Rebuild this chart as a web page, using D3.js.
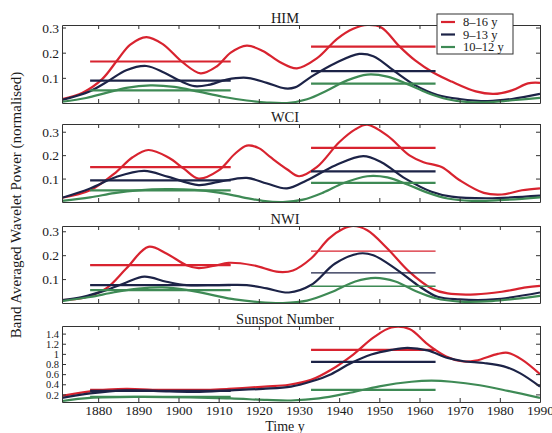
<!DOCTYPE html>
<html>
<head>
<meta charset="utf-8">
<script src="https://cdn.jsdelivr.net/npm/d3@7"></script>
<style>
body { margin: 0; background: #fff; }
svg text { font-family: "Liberation Serif", "Times New Roman", Times, serif; fill: #1a1a1a; }
</style>
</head>
<body>
<div id="vis"></div>
<script>
const FRAME_WIDTH = 552;
const FRAME_HEIGHT = 433;
const MARGINS = {left: 62, right: 12};

// panel titles and y ranges
const TITLES = ["HIM", "WCI", "NWI", "Sunspot Number"];
const Y_DOMAINS = [[0, 0.31], [0, 0.333], [0, 0.322], [0.05, 1.55]];
const Y_TICKS = [[0.1, 0.2, 0.3], [0.1, 0.2, 0.3], [0.1, 0.2, 0.3], [0.2, 0.4, 0.6, 0.8, 1, 1.2, 1.4]];
const X_TICKS = [1880, 1890, 1900, 1910, 1920, 1930, 1940, 1950, 1960, 1970, 1980, 1990];
const BANDS = ["8\u201316 y", "9\u201313 y", "10\u201312 y"];

// averaging windows for the horizontal lines
const WINDOWS = [[1878, 1913], [1933, 1964]];

// window means [first, second] for each band
const HIM_MEANS = [[0.165, 0.224], [0.089, 0.127], [0.05, 0.077]];
const WCI_MEANS = [[0.149, 0.231], [0.092, 0.131], [0.05, 0.082]];
const NWI_MEANS = [[0.158, 0.217], [0.075, 0.126], [0.054, 0.07]];
const SUN_MEANS = [[0.29, 1.08], [0.27, 0.84], [0.15, 0.29]];

// band averaged power [year, value]
const HIM_16 = [[1871,0.015],[1876,0.04],[1881,0.095],[1885,0.175],[1888,0.232],[1892,0.262],[1896,0.235],[1901,0.162],[1905.5,0.118],[1909.5,0.145],[1913,0.2],[1917,0.228],[1921,0.207],[1925,0.165],[1929.5,0.138],[1934.5,0.178],[1939.5,0.255],[1943.5,0.295],[1947,0.31],[1950.5,0.3],[1955,0.225],[1959,0.168],[1963.5,0.12],[1968,0.085],[1974,0.046],[1978.5,0.036],[1983,0.05],[1987,0.078],[1990,0.08]];
const HIM_13 = [[1871,0.012],[1878,0.047],[1882.5,0.087],[1887,0.13],[1892,0.147],[1896.5,0.12],[1900.5,0.087],[1904,0.067],[1907.5,0.072],[1912,0.093],[1917,0.1],[1922,0.08],[1926.5,0.058],[1929,0.062],[1933,0.104],[1939,0.158],[1945,0.195],[1948.5,0.186],[1954,0.124],[1959,0.07],[1964.5,0.032],[1970,0.016],[1977,0.008],[1983,0.016],[1990,0.036]];
const HIM_12 = [[1871,0.005],[1877,0.02],[1882,0.04],[1887,0.06],[1893,0.07],[1899,0.064],[1905,0.045],[1911,0.025],[1917,0.01],[1922,0.002],[1927,0],[1932,0.015],[1937,0.05],[1942,0.09],[1947,0.113],[1952,0.105],[1957,0.075],[1962,0.04],[1967,0.015],[1972,0.004],[1978,0.004],[1984,0.012],[1990,0.02]];

const WCI_16 = [[1871,0.018],[1878,0.05],[1884.5,0.128],[1888.5,0.19],[1892.5,0.222],[1897.5,0.19],[1901.5,0.14],[1905,0.1],[1910,0.135],[1914,0.205],[1917,0.241],[1920,0.23],[1923,0.19],[1927,0.14],[1930,0.11],[1934.5,0.15],[1940,0.255],[1944,0.31],[1947,0.33],[1952,0.283],[1957.5,0.199],[1961,0.17],[1965.5,0.149],[1970,0.093],[1976,0.039],[1980.5,0.032],[1985.5,0.05],[1990,0.058]];
const WCI_13 = [[1871,0.018],[1878,0.058],[1884.5,0.107],[1891.5,0.133],[1897.5,0.107],[1905,0.072],[1910,0.086],[1917,0.103],[1922,0.079],[1927,0.058],[1932,0.093],[1939,0.156],[1946,0.196],[1950.5,0.17],[1956.5,0.1],[1963,0.044],[1968,0.023],[1977,0.016],[1990,0.027]];
const WCI_12 = [[1871,0.005],[1878,0.02],[1884,0.038],[1890,0.05],[1897,0.055],[1904,0.052],[1910,0.04],[1916,0.02],[1921,0.005],[1926,0],[1931,0.01],[1936,0.04],[1941,0.08],[1947,0.11],[1952,0.105],[1957,0.075],[1962,0.04],[1967,0.015],[1973,0.005],[1980,0.008],[1990,0.02]];

const NWI_16 = [[1871,0.012],[1876.5,0.022],[1882,0.061],[1887,0.144],[1892.5,0.235],[1897,0.207],[1902,0.158],[1905,0.146],[1909,0.156],[1912.5,0.168],[1918.5,0.158],[1925,0.13],[1928.5,0.136],[1933,0.186],[1937.5,0.27],[1941,0.31],[1943.5,0.322],[1947,0.304],[1952,0.228],[1957.5,0.13],[1963,0.061],[1967,0.04],[1974,0.036],[1980.5,0.047],[1986.5,0.065],[1990,0.072]];
const NWI_13 = [[1871,0.012],[1876,0.025],[1882,0.054],[1887,0.086],[1891.5,0.11],[1897,0.089],[1902,0.075],[1910,0.075],[1917,0.075],[1922,0.061],[1927.5,0.044],[1933,0.075],[1939,0.165],[1945,0.207],[1948.5,0.2],[1954,0.144],[1959.5,0.075],[1964.5,0.026],[1970,0.015],[1978.5,0.015],[1990,0.044]];
const NWI_12 = [[1871,0.008],[1878,0.025],[1884,0.045],[1890,0.06],[1896,0.065],[1902,0.055],[1908,0.035],[1914,0.015],[1920,0.004],[1926,0],[1932,0.01],[1938,0.045],[1944,0.09],[1949,0.105],[1954,0.09],[1959,0.05],[1964,0.02],[1970,0.006],[1978,0.008],[1990,0.03]];

const SUN_16 = [[1871,0.17],[1878,0.26],[1887,0.31],[1895,0.28],[1904,0.27],[1912.5,0.31],[1921.5,0.354],[1927.5,0.39],[1933,0.487],[1938,0.687],[1943.5,0.987],[1948.5,1.32],[1953,1.52],[1957.5,1.49],[1962,1.19],[1966.5,0.954],[1970.5,0.854],[1974,0.867],[1979.5,1.0],[1982,1.02],[1985.5,0.887],[1990,0.6]];
const SUN_13 = [[1871,0.13],[1878,0.22],[1887,0.28],[1895,0.265],[1904,0.25],[1913,0.28],[1921,0.31],[1928,0.354],[1933,0.454],[1938,0.6],[1943,0.82],[1948,0.987],[1953,1.08],[1957,1.12],[1962,1.07],[1967,0.92],[1971,0.854],[1976,0.82],[1981,0.754],[1985,0.62],[1990,0.354]];
const SUN_12 = [[1871,0.07],[1878,0.13],[1890,0.15],[1903,0.14],[1913,0.12],[1922,0.09],[1928,0.08],[1935,0.12],[1942,0.22],[1950,0.36],[1958,0.45],[1963,0.47],[1968,0.45],[1975,0.38],[1982,0.27],[1990,0.13]];

const COLORS = ["#d8232f", "#1c2347", "#3e8a55"];

// panel boxes (top, bottom) in px
const PANEL_TOPS = [25, 124, 226, 326];
const PANEL_BOTTOMS = [103, 202, 303, 402];
const TITLE_X = 285;

const panels = TITLES.map((t, i) => ({
	title: t,
	series: [[HIM_16, HIM_13, HIM_12], [WCI_16, WCI_13, WCI_12], [NWI_16, NWI_13, NWI_12], [SUN_16, SUN_13, SUN_12]][i],
	means: [HIM_MEANS, WCI_MEANS, NWI_MEANS, SUN_MEANS][i],
	domain: Y_DOMAINS[i],
	ticks: Y_TICKS[i],
	top: PANEL_TOPS[i],
	bottom: PANEL_BOTTOMS[i]
}));

const FRAME = d3.select("#vis")
	.append("svg")
		.attr("width", FRAME_WIDTH)
		.attr("height", FRAME_HEIGHT);

const X_SCALE = d3.scaleLinear()
	.domain([1871, 1990])
	.range([MARGINS.left, FRAME_WIDTH - MARGINS.right]);

const TICK = 4;

panels.forEach((p, i) => {
	const Y_SCALE = d3.scaleLinear()
		.domain(p.domain)
		.range([p.bottom, p.top]);

	const g = FRAME.append("g");

	g.append("clipPath")
		.attr("id", "clip" + i)
		.append("rect")
			.attr("x", X_SCALE.range()[0])
			.attr("y", p.top)
			.attr("width", X_SCALE.range()[1] - X_SCALE.range()[0])
			.attr("height", p.bottom - p.top);

	const lines = g.append("g").attr("clip-path", "url(#clip" + i + ")");

	const line = d3.line()
		.x((d) => {return X_SCALE(d[0]);})
		.y((d) => {return Y_SCALE(d[1]);})
		.curve(d3.curveCatmullRom.alpha(0.5));

	p.series.forEach((s, k) => {
		lines.append("path")
			.datum(s)
			.attr("d", line)
			.attr("fill", "none")
			.attr("stroke", COLORS[k])
			.attr("stroke-width", 2.2)
			.attr("stroke-linejoin", "round");

		lines.selectAll(null)
			.data(WINDOWS.map((w, j) => ({w: w, v: p.means[k][j], j: j})))
			.enter()
			.append("line")
				.attr("x1", (d) => {return X_SCALE(d.w[0]);})
				.attr("x2", (d) => {return X_SCALE(d.w[1]);})
				.attr("y1", (d) => {return Y_SCALE(d.v);})
				.attr("y2", (d) => {return Y_SCALE(d.v);})
				.attr("stroke", COLORS[k])
				.attr("stroke-width", (d) => {return (i == 2 && d.j == 1) ? 1.3 : 2.2;});
	});

	// axes box with inward ticks (matlab look)
	const bottomAxis = d3.axisBottom(X_SCALE).tickValues(X_TICKS).tickSizeInner(-TICK).tickSizeOuter(0);
	const topAxis = d3.axisTop(X_SCALE).tickValues(X_TICKS).tickSizeInner(-TICK).tickSizeOuter(0).tickFormat("");
	const leftAxis = d3.axisLeft(Y_SCALE).tickValues(p.ticks).tickSizeInner(-TICK).tickSizeOuter(0).tickFormat(d3.format("~g"));
	const rightAxis = d3.axisRight(Y_SCALE).tickValues(p.ticks).tickSizeInner(-TICK).tickSizeOuter(0).tickFormat("");

	if (i == 3) {
		bottomAxis.tickFormat(d3.format("d"));
	} else {
		bottomAxis.tickFormat("");
	}

	const axes = [
		g.append("g").attr("transform", "translate(0," + p.bottom + ")").call(bottomAxis),
		g.append("g").attr("transform", "translate(0," + p.top + ")").call(topAxis),
		g.append("g").attr("transform", "translate(" + X_SCALE.range()[0] + ",0)").call(leftAxis),
		g.append("g").attr("transform", "translate(" + X_SCALE.range()[1] + ",0)").call(rightAxis)
	];
	axes.forEach((a) => {
		a.attr("font-family", null).attr("font-size", null);
		a.select(".domain").attr("stroke", "#333").attr("stroke-width", 1);
		a.selectAll(".tick line").attr("stroke", "#333");
		a.selectAll(".tick text")
			.attr("font-size", 13.5)
			.attr("fill", "#1a1a1a");
	});
	axes[0].selectAll(".tick text").attr("y", 1).attr("dy", "0.9em");
	axes[2].selectAll(".tick text").attr("x", -3).attr("dy", "0.35em");
	// the sunspot labels sit very close together
	if (i == 3) axes[2].selectAll(".tick text").attr("font-size", 10.5);

	g.append("text")
		.attr("x", TITLE_X)
		.attr("y", p.top - 2)
		.attr("text-anchor", "middle")
		.attr("font-size", 14.5)
		.text(p.title);
});

// x label
FRAME.append("text")
	.attr("x", TITLE_X)
	.attr("y", 431)
	.attr("text-anchor", "middle")
	.attr("font-size", 14)
	.text("Time y");

// y label
FRAME.append("text")
	.attr("transform", "translate(21,205) rotate(-90)")
	.attr("text-anchor", "middle")
	.attr("font-size", 15)
	.text("Band Averaged Wavelet Power (normalised)");

// legend
const LEGEND = FRAME.append("g").attr("transform", "translate(437,14)");
LEGEND.append("rect")
	.attr("width", 76)
	.attr("height", 40)
	.attr("fill", "#fff")
	.attr("stroke", "#333");
LEGEND.selectAll("legendline")
	.data(BANDS)
	.enter()
	.append("line")
		.attr("x1", 4)
		.attr("x2", 18)
		.attr("y1", (d, k) => {return 8 + k * 12.5;})
		.attr("y2", (d, k) => {return 8 + k * 12.5;})
		.attr("stroke", (d, k) => {return COLORS[k];})
		.attr("stroke-width", 2.2);
LEGEND.selectAll("legendtext")
	.data(BANDS)
	.enter()
	.append("text")
		.attr("x", 26)
		.attr("y", (d, k) => {return 12 + k * 12.5;})
		.attr("font-size", 12.5)
		.text((d) => {return d;});
</script>
</body>
</html>
